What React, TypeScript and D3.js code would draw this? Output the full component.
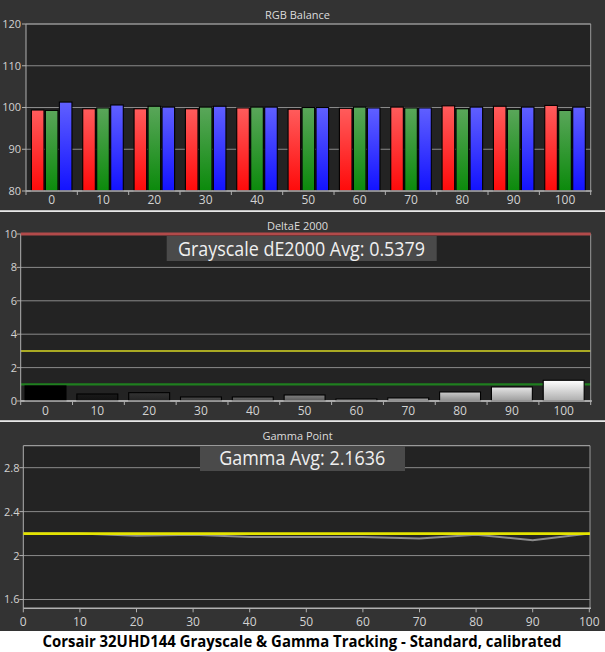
import { useEffect, useRef } from "react"
import * as d3 from "d3"

const levels = ["0", "10", "20", "30", "40", "50", "60", "70", "80", "90", "100"];
const redValues = [99.4, 99.7, 99.7, 99.7, 99.9, 99.6, 99.8, 100.1, 100.4, 100.3, 100.5];
const greenValues = [99.3, 99.9, 100.3, 100.1, 100.1, 100.0, 100.1, 99.9, 99.7, 99.6, 99.3];
const blueValues = [101.3, 100.6, 100.1, 100.3, 100.1, 100.0, 99.9, 99.9, 100.1, 100.1, 100.1];
const deltaEValues = [0.9, 0.42, 0.5, 0.24, 0.24, 0.36, 0.12, 0.18, 0.54, 0.84, 1.24];
const gammaLevels = [0, 10, 20, 30, 40, 50, 60, 70, 80, 90, 100];
const gammaValues = [2.2, 2.2, 2.18, 2.19, 2.17, 2.17, 2.17, 2.155, 2.19, 2.14, 2.2];
const rgbTicks = [80, 90, 100, 110, 120];
const deltaTicks = [0, 2, 4, 6, 8, 10];
const gammaTicks = [1.6, 2, 2.4, 2.8];
const gammaXTicks = [0, 10, 20, 30, 40, 50, 60, 70, 80, 90, 100];
const gammaTarget = 2.2;
const deltaLimits = { red: 10, yellow: 3, green: 1 };

const FONT = "'Open Sans', 'Noto Sans', sans-serif";
const PANEL_BG = "#333333";
const PLOT_BG = "#232323";
const GRID = "#8a8a8a";
const AXIS = "#b0b0b0";
const LABEL = "#d2d2d2";

export default function App() {
  const svgRef = useRef<SVGSVGElement>(null);

  useEffect(() => {
    if (!svgRef.current) return;
    const svg = d3.select(svgRef.current);
    svg.selectAll("*").remove();

    const defs = svg.append("defs");
    const addGradient = (id: string, top: string, bottom: string) => {
      const g = defs.append("linearGradient")
        .attr("id", id)
        .attr("x1", 0).attr("y1", 0).attr("x2", 0).attr("y2", 1);
      g.append("stop").attr("offset", "0%").attr("stop-color", top);
      g.append("stop").attr("offset", "100%").attr("stop-color", bottom);
    };
    addGradient("gr-red", "#ff5c5c", "#ff0a0a");
    addGradient("gr-green", "#5aa65a", "#0b8a0b");
    addGradient("gr-blue", "#6060ff", "#1212ff");
    levels.forEach((_, i) => {
      const l = i / 10;
      const top = d3.interpolateRgb("#000000", "#ffffff")(l);
      const bottom = d3.interpolateRgb("#000000", "#ffffff")(l * 0.68);
      addGradient(`gr-gray-${i}`, top, bottom);
    });

    // panel backgrounds
    svg.append("rect").attr("x", 0).attr("y", 0).attr("width", 605).attr("height", 652).attr("fill", "#ffffff");
    [[0, 210.5], [212, 208.5], [422, 209]].forEach(([y, h]) => {
      svg.append("rect").attr("x", 0).attr("y", y).attr("width", 605).attr("height", h).attr("fill", PANEL_BG);
    });

    const title = (text: string, y: number) => {
      svg.append("text")
        .attr("x", 297.5).attr("y", y)
        .attr("text-anchor", "middle")
        .style("font-family", FONT).style("font-size", "11px")
        .attr("fill", "#dcdcdc")
        .text(text);
    };

    const drawFrame = (x0: number, x1: number, y0: number, y1: number) => {
      svg.append("rect").attr("x", x0).attr("y", y0).attr("width", x1 - x0).attr("height", y1 - y0).attr("fill", PLOT_BG);
    };

    const yAxis = (ticks: number[], y: d3.ScaleLinear<number, number>, x0: number, x1: number, labelX: number) => {
      ticks.forEach(t => {
        svg.append("line")
          .attr("x1", x0).attr("x2", x1).attr("y1", y(t)).attr("y2", y(t))
          .attr("stroke", GRID).attr("stroke-width", 1);
        svg.append("line")
          .attr("x1", x0 - 4).attr("x2", x0).attr("y1", y(t)).attr("y2", y(t))
          .attr("stroke", AXIS).attr("stroke-width", 1);
        svg.append("text")
          .attr("x", labelX).attr("y", y(t)).attr("dy", "0.36em")
          .attr("text-anchor", "end")
          .style("font-family", FONT).style("font-size", "11px")
          .attr("fill", LABEL)
          .text(String(t));
      });
    };

    const borders = (x0: number, x1: number, y0: number, y1: number) => {
      svg.append("line").attr("x1", x0).attr("x2", x0).attr("y1", y0).attr("y2", y1).attr("stroke", AXIS);
      svg.append("line").attr("x1", x1).attr("x2", x1).attr("y1", y0).attr("y2", y1).attr("stroke", "#9a9a9a");
      svg.append("line").attr("x1", x0).attr("x2", x1).attr("y1", y0).attr("y2", y0).attr("stroke", "#9a9a9a").attr("stroke-width", 1.2);
      svg.append("line").attr("x1", x0).attr("x2", x1 + 1).attr("y1", y1).attr("y2", y1).attr("stroke", AXIS).attr("stroke-width", 1.6);
    };

    const bandTicks = (x: d3.ScaleBand<string>, y1: number, labelY: number) => {
      const [r0] = x.range();
      for (let i = 0; i <= levels.length; i++) {
        const bx = r0 + i * x.step();
        svg.append("line").attr("x1", bx).attr("x2", bx).attr("y1", y1).attr("y2", y1 + 4)
          .attr("stroke", AXIS);
      }
      levels.forEach(l => {
        svg.append("text")
          .attr("x", (x(l) || 0) + x.bandwidth() / 2).attr("y", labelY)
          .attr("text-anchor", "middle")
          .style("font-family", FONT).style("font-size", "12px")
          .attr("fill", LABEL)
          .text(l);
      });
    };

    // ---------- RGB Balance ----------
    {
      const x0 = 26, x1 = 590.7, y0 = 24, y1 = 191;
      drawFrame(x0, x1, y0, y1);
      const x = d3.scaleBand<string>().domain(levels).range([x0, x1]).paddingInner(0.21).paddingOuter(0.105);
      const y = d3.scaleLinear().domain([80, 120]).range([y1, y0]);
      const sub = d3.scaleBand<string>().domain(["r", "g", "b"]).range([0, x.bandwidth()]).paddingInner(0.1);
      yAxis(rgbTicks, y, x0, x1, 21);
      const series: [string, number[], string][] = [
        ["r", redValues, "url(#gr-red)"],
        ["g", greenValues, "url(#gr-green)"],
        ["b", blueValues, "url(#gr-blue)"],
      ];
      levels.forEach((l, i) => {
        series.forEach(([k, vals, fill]) => {
          svg.append("rect")
            .attr("x", (x(l) || 0) + (sub(k) || 0))
            .attr("y", y(vals[i]))
            .attr("width", sub.bandwidth())
            .attr("height", y1 - y(vals[i]))
            .attr("fill", fill)
            .attr("stroke", "#000")
            .attr("stroke-width", 1.1);
        });
      });
      borders(x0, x1, y0, y1);
      bandTicks(x, y1, 203.5);
      title("RGB Balance", 18.5);
    }

    // separators
    svg.append("line").attr("x1", 0).attr("x2", 605).attr("y1", 211.2).attr("y2", 211.2).attr("stroke", "#e8e8e8").attr("stroke-width", 1.4);
    svg.append("line").attr("x1", 0).attr("x2", 605).attr("y1", 421.2).attr("y2", 421.2).attr("stroke", "#e8e8e8").attr("stroke-width", 1.4);

    // ---------- DeltaE 2000 ----------
    {
      const x0 = 20.7, x1 = 590.7, y0 = 234, y1 = 401;
      drawFrame(x0, x1, y0, y1);
      const x = d3.scaleBand<string>().domain(levels).range([x0, x1]).paddingInner(0.21).paddingOuter(0.105).align(0.4);
      const y = d3.scaleLinear().domain([0, 10]).range([y1, y0]);
      yAxis(deltaTicks, y, x0, x1, 17);
      svg.append("line").attr("x1", x0).attr("x2", x1).attr("y1", y(deltaLimits.yellow)).attr("y2", y(deltaLimits.yellow))
        .attr("stroke", "#d8d824").attr("stroke-width", 1.5);
      svg.append("line").attr("x1", x0).attr("x2", x1).attr("y1", y(deltaLimits.green)).attr("y2", y(deltaLimits.green))
        .attr("stroke", "#1f7f1f").attr("stroke-width", 2.2);
      borders(x0, x1, y0, y1);
      svg.append("line").attr("x1", x0).attr("x2", x1).attr("y1", y(deltaLimits.red)).attr("y2", y(deltaLimits.red))
        .attr("stroke", "#b24a4a").attr("stroke-width", 3);
      levels.forEach((l, i) => {
        svg.append("rect")
          .attr("x", x(l) || 0)
          .attr("y", y(deltaEValues[i]))
          .attr("width", x.bandwidth())
          .attr("height", y1 - y(deltaEValues[i]))
          .attr("fill", `url(#gr-gray-${i})`)
          .attr("stroke", "#000")
          .attr("stroke-width", 1.1);
      });
      svg.append("line").attr("x1", x0).attr("x2", x1 + 1).attr("y1", y1).attr("y2", y1).attr("stroke", AXIS).attr("stroke-width", 1.6);
      bandTicks(x, y1, 414.5);
      title("DeltaE 2000", 229.5);
      svg.append("rect").attr("x", 166.7).attr("y", 236).attr("width", 270).attr("height", 25).attr("fill", "#4a4a4a");
      svg.append("text")
        .attr("x", 178).attr("y", 256)
        .attr("textLength", 247).attr("lengthAdjust", "spacingAndGlyphs")
        .style("font-family", FONT).style("font-size", "20px")
        .attr("fill", "#f0f0f0")
        .text("Grayscale dE2000 Avg: 0.5379");
    }

    // ---------- Gamma Point ----------
    {
      const x0 = 23.3, x1 = 590, y0 = 445.7, y1 = 608.3;
      drawFrame(x0, x1, y0, y1);
      const x = d3.scaleLinear().domain([0, 100]).range([x0, x1 - 0.7]);
      const y = d3.scaleLinear().domain([1.52, 3.0]).range([y1, y0]);
      yAxis(gammaTicks, y, x0, x1, 19.5);
      borders(x0, x1, y0, y1);
      gammaXTicks.forEach(t => {
        svg.append("line").attr("x1", x(t)).attr("x2", x(t)).attr("y1", y1).attr("y2", y1 + 4).attr("stroke", AXIS);
        svg.append("text")
          .attr("x", x(t)).attr("y", 626)
          .attr("text-anchor", "middle")
          .style("font-family", FONT).style("font-size", "12px")
          .attr("fill", LABEL)
          .text(String(t));
      });
      const line = d3.line<number>()
        .x((_, i) => x(gammaLevels[i]))
        .y(d => y(d));
      svg.append("path")
        .attr("d", line(gammaValues) || "")
        .attr("fill", "none")
        .attr("stroke", "#8c8c8c")
        .attr("stroke-width", 2);
      svg.append("line").attr("x1", x0).attr("x2", x1).attr("y1", y(gammaTarget)).attr("y2", y(gammaTarget))
        .attr("stroke", "#e4e400").attr("stroke-width", 2.6);
      title("Gamma Point", 440);
      svg.append("rect").attr("x", 200).attr("y", 446).attr("width", 205).attr("height", 25).attr("fill", "#4a4a4a");
      svg.append("text")
        .attr("x", 219.3).attr("y", 465)
        .attr("textLength", 166).attr("lengthAdjust", "spacingAndGlyphs")
        .style("font-family", FONT).style("font-size", "20px")
        .attr("fill", "#f0f0f0")
        .text("Gamma Avg: 2.1636");
    }

    // caption
    svg.append("text")
      .attr("x", 302).attr("y", 647)
      .attr("text-anchor", "middle")
      .attr("textLength", 519).attr("lengthAdjust", "spacingAndGlyphs")
      .style("font-family", FONT).style("font-size", "15.5px").style("font-weight", "bold")
      .attr("fill", "#000")
      .text("Corsair 32UHD144 Grayscale & Gamma Tracking - Standard, calibrated");
  }, []);

  return (
    <svg
      ref={svgRef}
      width={605}
      height={652}
      style={{ position: "absolute", left: 0, top: 0, display: "block" }}
    />
  );
}
